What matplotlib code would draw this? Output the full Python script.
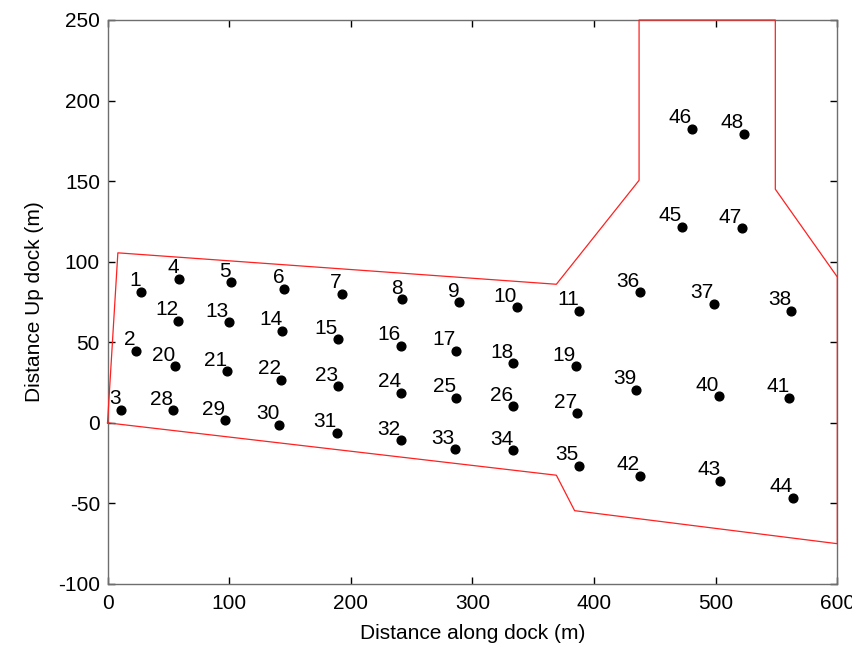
import matplotlib
matplotlib.use("Agg")
import matplotlib.pyplot as plt

plt.rcParams["font.family"] = ["Liberation Sans", "DejaVu Sans"]
plt.rcParams["axes.unicode_minus"] = False

# Station positions (m), numbered 1..48
station_x = [27.5, 23.4, 11.1, 59.0, 101.5, 145.4, 192.5, 242.4, 289.2, 336.4,
             387.6, 58.2, 99.9, 143.7, 189.5, 241.0, 286.5, 333.6, 385.1, 55.5,
             98.0, 142.6, 189.5, 241.0, 286.5, 333.6, 386.2, 54.1, 96.8, 141.2,
             188.4, 241.0, 285.4, 333.6, 387.6, 437.5, 498.4, 562.2, 434.7, 502.5,
             560.5, 437.5, 503.8, 563.3, 472.2, 480.3, 521.6, 523.3]
station_y = [81.2, 44.6, 8.2, 89.5, 87.2, 83.1, 80.2, 76.8, 74.8, 71.7,
             69.6, 63.4, 62.4, 57.2, 51.8, 47.7, 44.6, 37.1, 35.1, 35.1,
             32.0, 26.8, 22.7, 18.5, 15.4, 10.2, 5.9, 7.9, 1.6, -1.1,
             -6.3, -10.9, -16.3, -17.1, -26.6, 81.0, 74.0, 69.6, 20.4, 16.4,
             15.4, -32.8, -35.9, -46.4, 121.8, 182.6, 120.7, 179.5]
station_id = list(range(1, 49))

# Dock outline
dock_x = [0, 8.5, 369, 437, 437, 549, 549, 600, 600, 384, 369, 0]
dock_y = [0, 105.5, 86, 150.5, 250, 250, 145, 90.5, -75, -54.5, -32.5, 0]

fig = plt.figure(figsize=(8.52, 6.45), dpi=100)
ax = fig.add_axes([0.1262, 0.0946, 0.8566, 0.8744])

ax.plot(dock_x, dock_y, "-", color="#ff2020", lw=0.9, clip_on=False, zorder=3)
ax.plot(station_x, station_y, "o", color="black", markersize=6.3, zorder=4)
for sx, sy, sid in zip(station_x, station_y, station_id):
    ax.annotate(str(sid), (sx, sy), xytext=(0, 4), textcoords="offset points",
                ha="right", va="baseline", fontsize=15, color="black", zorder=5)

ax.set_xlim(0, 600)
ax.set_ylim(-100, 250)
ax.set_xticks(range(0, 601, 100))
ax.set_yticks(range(-100, 251, 50))
ax.tick_params(direction="in", length=5, width=1, labelsize=15, top=True,
               right=True, colors="black")
ax.tick_params(axis="x", pad=7)
ax.tick_params(axis="y", pad=5.5)
for s in ax.spines.values():
    s.set_color("#6e6e6e")
    s.set_linewidth(1.0)

ax.set_xlabel("Distance along dock (m)", fontsize=15, labelpad=8)
ax.set_ylabel("Distance Up dock (m)", fontsize=15, labelpad=10)

fig.savefig("out.png", dpi=100)
